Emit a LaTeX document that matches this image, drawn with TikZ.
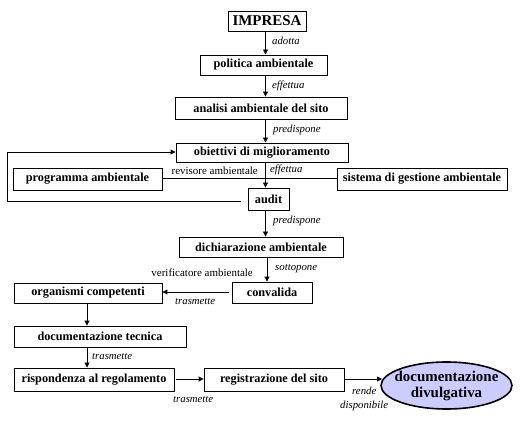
\documentclass[tikz,border=0pt]{standalone}
\usepackage{fontspec}
\setmainfont{Liberation Serif}
\usetikzlibrary{arrows.meta,calc,shapes.geometric}
\definecolor{lav}{RGB}{204,204,255}
\begin{document}
\begin{tikzpicture}[x=1bp,y=-1bp,
  box/.style={draw,line width=0.9bp,inner sep=0pt,font=\bfseries\fontsize{12.3}{14}\selectfont},
  arr/.style={line width=0.9bp,-{Triangle[length=5bp,width=5bp]}},
  ln/.style={line width=0.9bp},
  lbl/.style={inner sep=0pt,font=\itshape\fontsize{10.8}{12}\selectfont},
  rlbl/.style={inner sep=0pt,font=\fontsize{11}{12}\selectfont}]
\useasboundingbox (0,0) rectangle (527,446);
\coordinate (sx) at (265.5,0);
\coordinate (sx2) at (267,0);
\coordinate (lx) at (87,0);
\node[box,minimum width=78bp,minimum height=20bp,font=\bfseries\fontsize{15}{17}\selectfont] (imp) at (267,21) {IMPRESA};
\node[box,minimum width=127bp,minimum height=20bp] (pol) at (263.5,65) {politica ambientale};
\node[box,minimum width=172bp,minimum height=22bp] (ana) at (261,108) {analisi ambientale del sito};
\node[box,minimum width=172bp,minimum height=19bp] (obi) at (262,152.5) {obiettivi di miglioramento};
\node[box,minimum width=149bp,minimum height=22bp] (prog) at (87.5,179) {programma ambientale};
\node[box,minimum width=170bp,minimum height=22bp] (sist) at (422,179) {sistema di gestione ambientale};
\node[box,minimum width=41bp,minimum height=22bp] (audit) at (268.5,199) {audit};
\node[box,minimum width=164bp,minimum height=20bp] (dich) at (261,247) {dichiarazione ambientale};
\node[box,minimum width=80bp,minimum height=21bp] (conv) at (272,292.5) {convalida};
\node[box,minimum width=148bp,minimum height=20bp] (org) at (88,293) {organismi competenti};
\node[box,minimum width=172bp,minimum height=21bp] (doc) at (100,336.5) {documentazione tecnica};
\node[box,minimum width=160bp,minimum height=23bp] (risp) at (94,379.5) {rispondenza al regolamento};
\node[box,minimum width=140bp,minimum height=23bp] (reg) at (274,379.5) {registrazione del sito};
\node[draw,ellipse,line width=1.6bp,fill=lav,minimum width=131bp,minimum height=47bp,inner sep=0pt] (ell) at (446.5,385.5) {};
\node[inner sep=0pt,align=center,font=\bfseries\fontsize{15}{16}\selectfont] (ellt) at (ell.center) {documentazione\\divulgativa};
% main spine
\draw[arr] (imp.south -| sx) -- (pol.north -| sx);
\draw[arr] (pol.south -| sx) -- (ana.north -| sx);
\draw[arr] (ana.south -| sx) -- (obi.north -| sx);
\draw[arr] (obi.south -| sx) -- (audit.north -| sx);
\draw[arr] (audit.south -| sx) -- (dich.north -| sx);
\draw[arr] (dich.south -| sx2) -- (conv.north -| sx2);
\node[lbl,anchor=west] (l1) at (272,41) {adotta};
\node[lbl,anchor=west] (l2) at (272,86) {effettua};
\node[lbl,anchor=west] (l3) at (273,130) {predispone};
\node[lbl,anchor=west] (l4) at (270,170) {effettua};
\node[rlbl,anchor=east] (l5) at (258,171) {revisore ambientale};
\node[lbl,anchor=west] (l6) at (273,221) {predispone};
\node[lbl,anchor=west] (l7) at (275,269) {sottopone};
\node[rlbl,anchor=east] (l8) at (253,273) {verificatore ambientale};
% cross line
\draw[ln] (prog.east |- 0,178) -- (sist.west |- 0,178);
% feedback
\coordinate (fb1) at (7,201);
\coordinate (fb2) at (7,152);
\draw[arr] ($(audit.west)+(-7,2)$) -- (fb1) -- (fb2) -- (obi.west |- fb2);
% lower part
\draw[arr,shorten <=3bp] (conv.west |- 0,292) -- (org.east |- 0,292);
\node[lbl,anchor=west] (l9) at (175,302) {trasmette};
\draw[arr] (org.south -| lx) -- (doc.north -| lx);
\draw[arr] (doc.south -| lx) -- (risp.north -| lx);
\node[lbl,anchor=west] (l10) at (92,357) {trasmette};
\draw[arr,shorten <=2bp] (risp.east |- 0,379) -- (reg.west |- 0,379);
\node[lbl,anchor=west] (l11) at (173,400) {trasmette};
\draw[arr] (reg.east |- 0,379) -- (382,379);
\node[lbl,anchor=west] (l12) at (352,391) {rende};
\node[lbl,anchor=west] (l13) at (340,406) {disponibile};
\end{tikzpicture}
\end{document}
